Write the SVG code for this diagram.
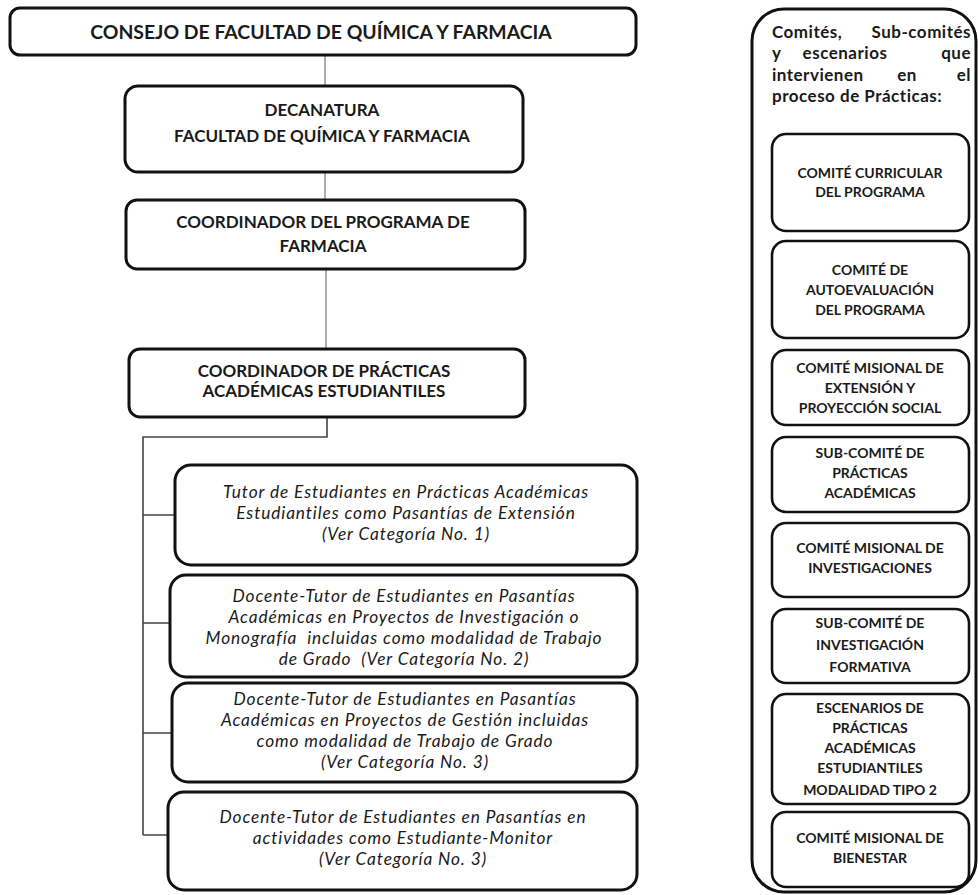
<svg xmlns="http://www.w3.org/2000/svg" width="978" height="895" viewBox="0 0 978 895">
<style>
.box{fill:#fff;stroke:#111;stroke-width:3}
.ibox{fill:#fff;stroke:#111;stroke-width:2.6}
.thin{fill:none;stroke:#777;stroke-width:1.2}
.brk{fill:none;stroke:#444;stroke-width:1.6}
text{font-family:Lato,"Liberation Sans",sans-serif;fill:#1a1a1a;text-anchor:middle}
.t1{font-size:19.4px;font-weight:bold}
.t2{font-size:17px;font-weight:bold}
.ti{font-size:17.3px;font-style:italic;letter-spacing:0.9px}
.hd{font-size:17px;font-weight:bold;letter-spacing:0.5px}
.sm{font-size:14px;font-weight:bold}
.st{text-anchor:start}
.en{text-anchor:end}
</style>
<rect width="978" height="895" fill="#fff"/>
<g id="connectors">
<path class="thin" d="M325 55V86M325 172V200M326 269V349"/>
<path class="brk" d="M327 417V437H143V835M143 515H175M143 623H170M143 733H172M143 835H168"/>
</g>
<g id="consejo">
<rect class="box" x="10" y="8" width="626" height="47" rx="10"/>
<text class="t1" x="321" y="39">CONSEJO DE FACULTAD DE QUÍMICA Y FARMACIA</text>
</g>
<g id="decanatura">
<rect class="box" x="125" y="86" width="398" height="86" rx="13"/>
<text class="t2" x="322" y="116">DECANATURA</text>
<text class="t2" x="322" y="142">FACULTAD DE QUÍMICA Y FARMACIA</text>
</g>
<g id="coord-programa">
<rect class="box" x="126" y="200" width="399" height="69" rx="11"/>
<text class="t2" x="323" y="228">COORDINADOR DEL PROGRAMA DE</text>
<text class="t2" x="323" y="252">FARMACIA</text>
</g>
<g id="coord-practicas">
<rect class="box" x="129" y="349" width="396" height="68" rx="11"/>
<text class="t2" x="324" y="377">COORDINADOR DE PRÁCTICAS</text>
<text class="t2" x="324" y="397">ACADÉMICAS ESTUDIANTILES</text>
</g>
<g id="tutor1">
<rect class="box" x="175" y="465" width="462" height="100" rx="16"/>
<text class="ti" x="406" y="498">Tutor de Estudiantes en Prácticas Académicas</text>
<text class="ti" x="406" y="519">Estudiantiles como Pasantías de Extensión</text>
<text class="ti" x="406" y="540">(Ver Categoría No. 1)</text>
</g>
<g id="tutor2">
<rect class="box" x="170" y="575" width="467" height="102" rx="16"/>
<text class="ti" x="404" y="602">Docente-Tutor de Estudiantes en Pasantías</text>
<text class="ti" x="404" y="623">Académicas en Proyectos de Investigación o</text>
<text class="ti" x="404" y="644">Monografía&#160; incluidas como modalidad de Trabajo</text>
<text class="ti" x="404" y="665">de Grado&#160; (Ver Categoría No. 2)</text>
</g>
<g id="tutor3">
<rect class="box" x="172" y="683" width="465" height="99" rx="16"/>
<text class="ti" x="405" y="705">Docente-Tutor de Estudiantes en Pasantías</text>
<text class="ti" x="405" y="726">Académicas en Proyectos de Gestión incluidas</text>
<text class="ti" x="405" y="747">como modalidad de Trabajo de Grado</text>
<text class="ti" x="405" y="768">(Ver Categoría No. 3)</text>
</g>
<g id="tutor4">
<rect class="box" x="168" y="792" width="469" height="98" rx="16"/>
<text class="ti" x="403" y="823">Docente-Tutor de Estudiantes en Pasantías en</text>
<text class="ti" x="403" y="844">actividades como Estudiante-Monitor</text>
<text class="ti" x="403" y="865">(Ver Categoría No. 3)</text>
</g>
<g id="panel">
<rect class="box" x="752" y="9" width="224" height="883" rx="32"/>
<text class="hd st" x="772" y="38">Comités,</text>
<text class="hd en" x="971" y="38">Sub-comités</text>
<text class="hd st" x="772" y="59">y</text>
<text class="hd" x="845" y="59">escenarios</text>
<text class="hd en" x="971" y="59">que</text>
<text class="hd st" x="772" y="81">intervienen</text>
<text class="hd" x="907" y="81">en</text>
<text class="hd en" x="971" y="81">el</text>
<text class="hd st" x="772" y="102">proceso de Prácticas:</text>
</g>
<g id="c-curricular">
<rect class="ibox" x="772" y="134" width="197" height="97" rx="14"/>
<text class="sm" x="870" y="178">COMITÉ CURRICULAR</text>
<text class="sm" x="870" y="197">DEL PROGRAMA</text>
</g>
<g id="c-autoevaluacion">
<rect class="ibox" x="772" y="241" width="197" height="97" rx="14"/>
<text class="sm" x="870" y="275">COMITÉ DE</text>
<text class="sm" x="870" y="295">AUTOEVALUACIÓN</text>
<text class="sm" x="870" y="315">DEL PROGRAMA</text>
</g>
<g id="c-extension">
<rect class="ibox" x="772" y="350" width="197" height="75" rx="14"/>
<text class="sm" x="870" y="373">COMITÉ MISIONAL DE</text>
<text class="sm" x="870" y="393">EXTENSIÓN Y</text>
<text class="sm" x="870" y="413">PROYECCIÓN SOCIAL</text>
</g>
<g id="sc-practicas">
<rect class="ibox" x="772" y="437" width="197" height="75" rx="14"/>
<text class="sm" x="870" y="458">SUB-COMITÉ DE</text>
<text class="sm" x="870" y="478">PRÁCTICAS</text>
<text class="sm" x="870" y="498">ACADÉMICAS</text>
</g>
<g id="c-investigaciones">
<rect class="ibox" x="772" y="523" width="197" height="74" rx="14"/>
<text class="sm" x="870" y="553">COMITÉ MISIONAL DE</text>
<text class="sm" x="870" y="573">INVESTIGACIONES</text>
</g>
<g id="sc-formativa">
<rect class="ibox" x="772" y="609" width="197" height="74" rx="14"/>
<text class="sm" x="870" y="628">SUB-COMITÉ DE</text>
<text class="sm" x="870" y="650">INVESTIGACIÓN</text>
<text class="sm" x="870" y="672">FORMATIVA</text>
</g>
<g id="escenarios">
<rect class="ibox" x="772" y="694" width="197" height="110" rx="14"/>
<text class="sm" x="870" y="713">ESCENARIOS DE</text>
<text class="sm" x="870" y="733">PRÁCTICAS</text>
<text class="sm" x="870" y="753">ACADÉMICAS</text>
<text class="sm" x="870" y="773">ESTUDIANTILES</text>
<text class="sm" x="870" y="795">MODALIDAD TIPO 2</text>
</g>
<g id="c-bienestar">
<rect class="ibox" x="772" y="812" width="197" height="75" rx="14"/>
<text class="sm" x="870" y="843">COMITÉ MISIONAL DE</text>
<text class="sm" x="870" y="863">BIENESTAR</text>
</g>
</svg>
